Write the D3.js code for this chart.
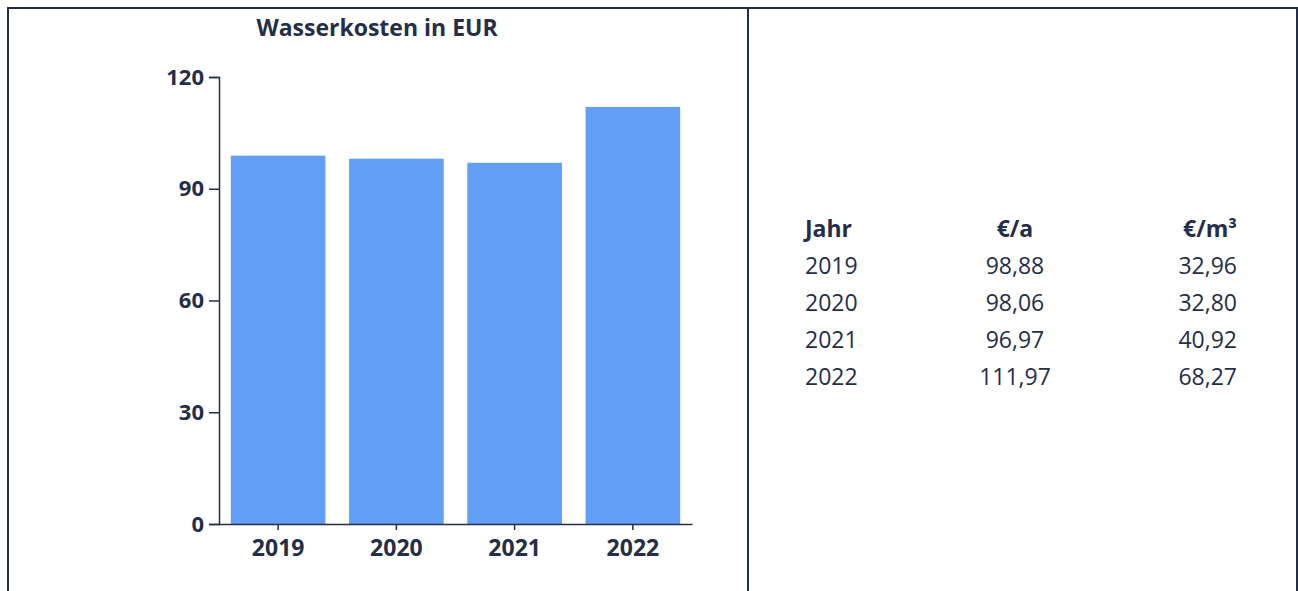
<!DOCTYPE html>
<html><head><meta charset="utf-8">
<script src="https://cdn.jsdelivr.net/npm/d3@7"></script>
<style>
html,body{margin:0;padding:0;background:#fff;}
svg{display:block;font-family:"Open Sans",sans-serif;}
</style></head>
<body>
<svg id="c" width="1298" height="591"></svg>
<script>
const years = ["2019","2020","2021","2022"];
const costPerYear = [98.88, 98.06, 96.97, 111.97];
const costPerYearLabels = ["98,88","98,06","96,97","111,97"];
const costPerM3Labels = ["32,96","32,80","40,92","68,27"];
const yTicks = [0,30,60,90,120];
const tableHeaders = ["Jahr","€/a","€/m³"];
const chartTitle = "Wasserkosten in EUR";

const ink = "#252e48";
const barColor = "#629ef3";
const svg = d3.select("#c");

// frame
svg.append("path").attr("d","M8,600V8H1297V600").attr("fill","none").attr("stroke",ink).attr("stroke-width",2);
svg.append("line").attr("x1",748).attr("x2",748).attr("y1",8).attr("y2",600).attr("stroke",ink).attr("stroke-width",2);

const x = d3.scaleBand().domain(years).range([219,692]).paddingInner(0.2).paddingOuter(0.1);
const y = d3.scaleLinear().domain([0,120]).range([524,77]);

svg.append("text").attr("x",377).attr("y",36).attr("text-anchor","middle")
  .attr("font-size",23).attr("font-weight",700).attr("fill",ink).text(chartTitle);

svg.append("g").selectAll("rect").data(years).join("rect")
  .attr("x",d=>x(d)).attr("width",x.bandwidth())
  .attr("y",(d,i)=>y(costPerYear[i])).attr("height",(d,i)=>y(0)-y(costPerYear[i]))
  .attr("fill",barColor);

const ya = svg.append("g").attr("transform","translate(219,0)")
  .call(d3.axisLeft(y).tickValues(yTicks).tickSize(10).tickSizeOuter(10).tickPadding(5));
ya.select(".domain").attr("stroke",ink).attr("stroke-width",1.5);
ya.selectAll(".tick line").attr("stroke",ink).attr("stroke-width",1.5);
ya.selectAll(".tick text").attr("font-size",22).attr("font-weight",700).attr("fill",ink)
  .attr("font-family","'Open Sans',sans-serif");

const xa = svg.append("g").attr("transform","translate(0,524)")
  .call(d3.axisBottom(x).tickSize(6).tickSizeOuter(0).tickPadding(10));
xa.select(".domain").attr("stroke",ink).attr("stroke-width",1.5);
xa.selectAll(".tick line").attr("stroke",ink).attr("stroke-width",1.5);
xa.selectAll(".tick text").attr("font-size",23).attr("font-weight",700).attr("fill",ink)
  .attr("font-family","'Open Sans',sans-serif");

// table
const colX = [805, 1015, 1237];
const anchors = ["start","middle","end"];
const rowY0 = 237, rowStep = 37;
const tg = svg.append("g").attr("font-size",23).attr("fill",ink);
tableHeaders.forEach((h,j)=>{
  tg.append("text").attr("x",colX[j]).attr("y",rowY0).attr("text-anchor",anchors[j])
    .attr("font-weight",700).text(h);
});
years.forEach((yr,i)=>{
  const row=[yr,costPerYearLabels[i],costPerM3Labels[i]];
  row.forEach((v,j)=>{
    tg.append("text").attr("x",colX[j]).attr("y",rowY0+rowStep*(i+1)).attr("text-anchor",anchors[j]).text(v);
  });
});
</script>
</body></html>
